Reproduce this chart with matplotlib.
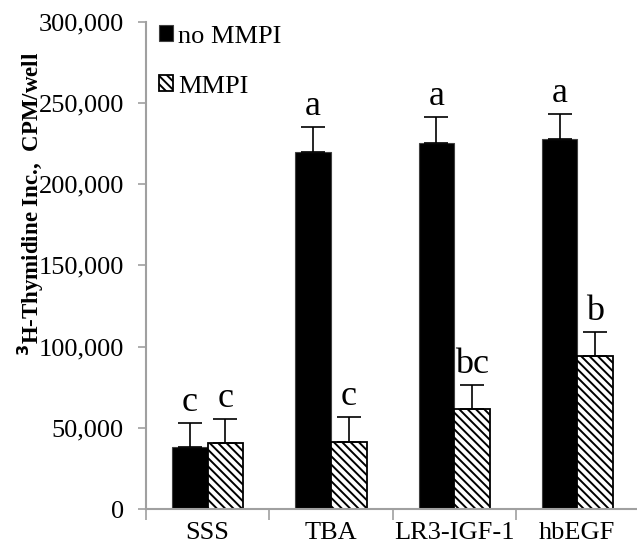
import matplotlib
matplotlib.use("Agg")
import matplotlib.pyplot as plt
import numpy as np

categories = ["SSS", "TBA", "LR3-IGF-1", "hbEGF"]
no_mmpi = [37900, 220000, 225500, 227500]
no_mmpi_err = [15200, 15000, 15500, 15500]
mmpi = [40800, 41400, 61300, 94100]
mmpi_err = [14600, 15400, 15000, 15000]
letters_no = ["c", "a", "a", "a"]
letters_mmpi = ["c", "c", "bc", "b"]
yticks = [0, 50000, 100000, 150000, 200000, 250000, 300000]

plt.rcParams['font.family'] = ['Liberation Serif', 'DejaVu Serif']
plt.rcParams['hatch.linewidth'] = 1.4

fig = plt.figure(figsize=(6.37, 5.5), dpi=100)
ax = fig.add_axes([0.2292, 0.0745, 0.774, 0.8864])

x = np.arange(len(categories)) + 0.5
w = 0.289
off = w / 2
ax.bar(x - off, no_mmpi, w, color='black', edgecolor='#404040', linewidth=0.8,
       label='no MMPI', zorder=2)
ax.bar(x + off, mmpi, w, color='white', edgecolor='black', hatch='\\\\\\\\', linewidth=1.3,
       label='MMPI', zorder=2)
ax.errorbar(x - off, no_mmpi, yerr=[np.zeros(4), no_mmpi_err], fmt='none', ecolor='black',
            elinewidth=1.2, capsize=8.5, capthick=1.2, zorder=3)
ax.errorbar(x + off, mmpi, yerr=[np.zeros(4), mmpi_err], fmt='none', ecolor='black',
            elinewidth=1.2, capsize=8.5, capthick=1.2, zorder=3)

for i in range(4):
    ax.text(x[i] - off, no_mmpi[i] + no_mmpi_err[i] + 2500, letters_no[i], ha='center',
            va='bottom', fontsize=26)
    ax.text(x[i] + off, mmpi[i] + mmpi_err[i] + 2500, letters_mmpi[i], ha='center',
            va='bottom', fontsize=26)

ax.set_xlim(0, 4)
ax.set_ylim(0, 300000)
ax.set_yticks(yticks)
ax.set_yticklabels([f"{v:,}" for v in yticks], fontsize=19)
ax.set_xticks([0, 1, 2, 3, 4])
ax.set_xticklabels([])
ax.set_xticks(x, minor=True)
ax.set_xticklabels(categories, minor=True, fontsize=19)
ax.tick_params(axis='x', which='minor', length=0, pad=9)
ax.tick_params(axis='x', which='major', length=8, width=1.2, color='#a0a0a0', direction='out')
ax.tick_params(axis='y', length=6, width=1.2, color='#a0a0a0', direction='out', pad=10)

for s in ['top', 'right']:
    ax.spines[s].set_visible(False)
for s in ['left', 'bottom']:
    ax.spines[s].set_color('#a0a0a0')
    ax.spines[s].set_linewidth(1.5)

ax.set_ylabel(r"$^{\mathbf{3}}$H-Thymidine Inc.,  CPM/well", fontsize=16.5, fontweight='bold')
ax.yaxis.set_label_coords(-0.202, 0.625)

leg = ax.legend(loc='upper left', bbox_to_anchor=(-0.012, 1.03), frameon=False, fontsize=19,
                handlelength=0.55, handleheight=0.55, handletextpad=0.2, labelspacing=1.05,
                borderpad=0.2)

fig.savefig("out.png", dpi=100)
